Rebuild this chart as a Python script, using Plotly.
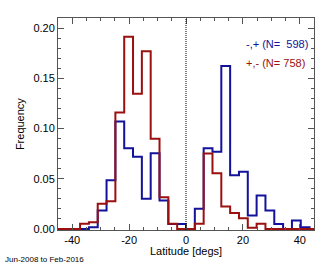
import numpy as np
import plotly.graph_objects as go

# Histogram bins (IDL-style: 58 bins over -90..90)
bin_width = 180.0 / 58.0
bin_index = list(range(-15, 15))

# Frequency per latitude bin
freq_neg_pos = [0, 0, 0, 0, 0.0017, 0.0184, 0.0485, 0.1070, 0.0803, 0.0719,
                0.0301, 0.0753, 0.0284, 0.0050, 0.0050, 0, 0.0201, 0.0803,
                0.0769, 0.1622, 0.0535, 0.0569, 0.0134, 0.0334, 0.0184,
                0.0050, 0, 0.0084, 0.0017, 0]
freq_pos_neg = [0, 0, 0, 0.0053, 0.0066, 0.0251, 0.0277, 0.1160, 0.1913,
                0.1346, 0.1768, 0.0897, 0.0317, 0.0053, 0, 0, 0.0053, 0.0752,
                0.0554, 0.0224, 0.0158, 0.0106, 0.0013, 0.0053, 0, 0, 0, 0,
                0, 0]

labels = ["-,+ (N=\u00a0\u00a0598)", "+,- (N= 758)"]
x_tick_vals = [-40, -20, 0, 20, 40]
y_tick_vals = [0.00, 0.05, 0.10, 0.15, 0.20]

BLUE = "#12129a"
RED = "#9a1010"
FONT = "Liberation Sans, Arial, sans-serif"

edges = np.array(bin_index + [bin_index[-1] + 1]) * bin_width

def step(vals):
    return list(vals) + [vals[-1]]

fig = go.Figure()
fig.add_trace(go.Scatter(x=edges, y=step(freq_neg_pos), mode="lines",
                         line=dict(color=BLUE, width=2, shape="hv"),
                         hoverinfo="skip"))
fig.add_trace(go.Scatter(x=edges, y=step(freq_pos_neg), mode="lines",
                         line=dict(color=RED, width=2, shape="hv"),
                         hoverinfo="skip"))

fig.add_shape(type="line", xref="x", yref="paper", x0=0, x1=0, y0=0, y1=1,
              line=dict(color="black", width=1, dash="1px,1px"))

axis_common = dict(showgrid=False, zeroline=False, showline=True,
                   linecolor="#555555", linewidth=1, ticks="inside",
                   ticklen=6, tickwidth=1, tickcolor="#555555",
                   mirror="allticks",
                   tickfont=dict(family=FONT, size=11, color="black"))

fig.update_xaxes(range=[-45, 45], tickvals=x_tick_vals,
                 ticktext=[str(v) for v in x_tick_vals],
                 minor=dict(dtick=5, tick0=0, ticklen=3, ticks="inside",
                            tickcolor="#555555"),
                 **axis_common)
fig.update_yaxes(range=[-0.001, 0.21], tickvals=y_tick_vals,
                 ticktext=["%.2f" % v for v in y_tick_vals],
                 minor=dict(dtick=0.01, tick0=0, ticklen=3, ticks="inside",
                            tickcolor="#555555"),
                 **axis_common)

fig.add_annotation(text=labels[0], xref="paper", yref="paper", x=0.727,
                   y=0.877, xanchor="left", yanchor="middle", showarrow=False,
                   font=dict(family=FONT, size=11, color=BLUE))
fig.add_annotation(text=labels[1], xref="paper", yref="paper", x=0.727,
                   y=0.788, xanchor="left", yanchor="middle", showarrow=False,
                   font=dict(family=FONT, size=11, color=RED))
fig.add_annotation(text="Latitude [degs]", xref="paper", yref="paper", x=0.5,
                   y=-0.099, xanchor="center", yanchor="middle",
                   showarrow=False, font=dict(family=FONT, size=11, color="black"))
fig.add_annotation(text="Frequency", xref="paper", yref="paper", x=-0.148,
                   y=0.5, xanchor="center", yanchor="middle", textangle=-90,
                   showarrow=False, font=dict(family=FONT, size=11, color="black"))
fig.add_annotation(text="Jun-2008 to Feb-2016", xref="paper", yref="paper",
                   x=-0.215, y=-0.1415, xanchor="left", yanchor="middle",
                   showarrow=False, font=dict(family=FONT, size=8, color="black"))

fig.update_layout(width=332, height=266, margin=dict(l=58, r=18, t=18, b=36),
                  paper_bgcolor="white", plot_bgcolor="white",
                  showlegend=False)

fig.write_html("out.html", config={"displayModeBar": False},
               post_script="document.body.style.margin='0';"
                           "document.body.style.overflow='hidden';")
